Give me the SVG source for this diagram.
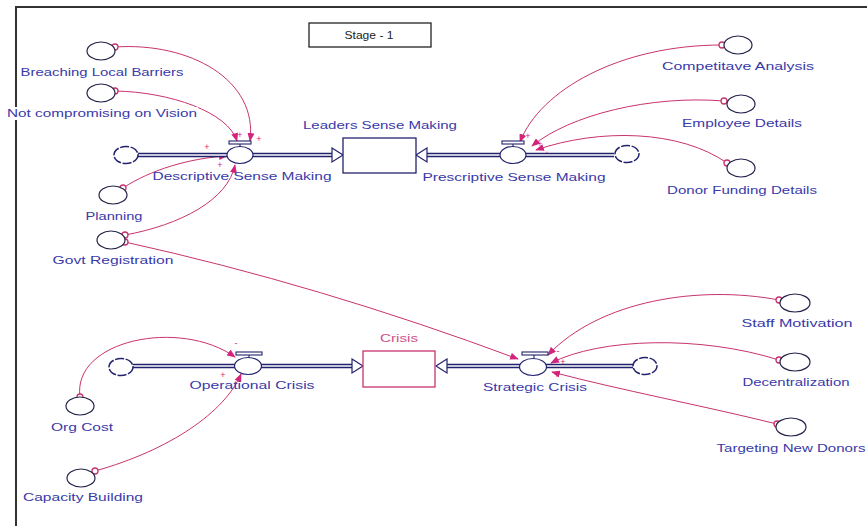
<svg xmlns="http://www.w3.org/2000/svg" width="867" height="526" viewBox="0 0 867 526">
<style>
text{font-family:"Liberation Sans",Arial,sans-serif;font-size:11.5px;fill:#3a3aa8;text-anchor:middle}
.aux{fill:#fff;stroke:#23234a;stroke-width:1.2}
.valve{fill:#fff;stroke:#22226e;stroke-width:1.2}
.bar{fill:#fff;stroke:#22226e;stroke-width:1.1}
.cloud{fill:#fff;stroke:#22226e;stroke-width:1.5;stroke-dasharray:9 1.6}
.pipeo{stroke:#22226e;stroke-width:4.5;fill:none}
.pipei{stroke:#fff;stroke-width:1.6;fill:none}
.head{fill:#fff;stroke:#22226e;stroke-width:1.2}
.link{fill:none;stroke:#c8336e;stroke-width:1}
.org{fill:#fff;stroke:#c8336e;stroke-width:1.3}
.sign{fill:#d4237a;font-size:9px}
</style>
<defs>
<marker id="ah" viewBox="0 0 10 8" refX="9" refY="4" markerWidth="9" markerHeight="7" markerUnits="userSpaceOnUse" orient="auto">
<path d="M0,0 L10,4 L0,8 Z" fill="#d4237a"/>
</marker>
</defs>
<rect width="867" height="526" fill="#fff"/>
<g id="frame">
<path d="M16,526 L16,7 L867,7" fill="none" stroke="#333" stroke-width="2"/>
</g>
<g id="stage">
<rect x="309" y="23" width="122" height="24" fill="#fff" stroke="#222" stroke-width="1.3"/>
<text x="369" y="39" style="fill:#222;font-size:10.5px" textLength="49" lengthAdjust="spacingAndGlyphs">Stage - 1</text>
</g>
<g id="connectors">
<path class="link" d="M115,47 C190,42 258,80 250,141" marker-end="url(#ah)"/>
<path class="link" d="M115,91 C170,92 228,112 237,141" marker-end="url(#ah)"/>
<path class="link" d="M123,188 C150,170 190,158 227,156" marker-end="url(#ah)"/>
<path class="link" d="M125,235 C180,225 228,200 235,165" marker-end="url(#ah)"/>
<path class="link" d="M125,242 Q320,285 518,359" marker-end="url(#ah)"/>
<path class="link" d="M722,45 C620,45 540,90 520,142" marker-end="url(#ah)"/>
<path class="link" d="M724,101 C650,95 570,115 532,146" marker-end="url(#ah)"/>
<path class="link" d="M727,163 C680,130 600,128 536,150" marker-end="url(#ah)"/>
<path class="link" d="M779,300 C700,285 600,300 548,355" marker-end="url(#ah)"/>
<path class="link" d="M779,360 C700,335 600,338 551,363" marker-end="url(#ah)"/>
<path class="link" d="M777,424 C700,405 620,390 552,372" marker-end="url(#ah)"/>
<path class="link" d="M80,397 C72,340 180,318 235,357" marker-end="url(#ah)"/>
<path class="link" d="M95,471 C170,450 225,412 241,374" marker-end="url(#ah)"/>
<circle class="org" cx="115" cy="47" r="3"/>
<circle class="org" cx="115" cy="91" r="3"/>
<circle class="org" cx="123" cy="188" r="3"/>
<circle class="org" cx="125" cy="235" r="3"/>
<circle class="org" cx="125" cy="242" r="3"/>
<circle class="org" cx="722" cy="45" r="3"/>
<circle class="org" cx="724" cy="101" r="3"/>
<circle class="org" cx="727" cy="163" r="3"/>
<circle class="org" cx="779" cy="300" r="3"/>
<circle class="org" cx="779" cy="360" r="3"/>
<circle class="org" cx="777" cy="424" r="3"/>
<circle class="org" cx="80" cy="397" r="3"/>
<circle class="org" cx="95" cy="471" r="3"/>
<text class="sign" x="240" y="138">+</text>
<text class="sign" x="259" y="142">+</text>
<text class="sign" x="207" y="150">+</text>
<text class="sign" x="220" y="168">+</text>
<text class="sign" x="528" y="139">+</text>
<text class="sign" x="540" y="147">+</text>
<text class="sign" x="547" y="157">+</text>
<text class="sign" x="558" y="354">-</text>
<text class="sign" x="563" y="365">+</text>
<text class="sign" x="557" y="378">+</text>
<text class="sign" x="236" y="346">-</text>
<text class="sign" x="223" y="378">+</text>
</g>
<g id="flows">
<path class="pipeo" d="M138,155 H333"/><path class="pipei" d="M138,155 H333"/>
<path class="head" d="M332,148 L343,155 L332,162 Z"/>
<path class="pipeo" d="M614,155 H426"/><path class="pipei" d="M614,155 H426"/>
<path class="head" d="M427,148 L416,155 L427,162 Z"/>
<path class="pipeo" d="M133,366 H353"/><path class="pipei" d="M133,366 H353"/>
<path class="head" d="M352,359 L363,366 L352,373 Z"/>
<path class="pipeo" d="M633,366 H446"/><path class="pipei" d="M633,366 H446"/>
<path class="head" d="M447,359 L436,366 L447,373 Z"/>
</g>
<g id="leaders-sense-making">
<rect x="343" y="138" width="73" height="35" fill="#fff" stroke="#22226e" stroke-width="1.3"/>
<text x="380" y="129" textLength="154" lengthAdjust="spacingAndGlyphs">Leaders Sense Making</text>
</g>
<g id="crisis">
<rect x="363" y="351" width="72" height="36" fill="#fff" stroke="#c8336e" stroke-width="1.3"/>
<text x="399" y="342" style="fill:#d0508a" textLength="38" lengthAdjust="spacingAndGlyphs">Crisis</text>
</g>
<g id="cloud-desc"><ellipse class="cloud" cx="126" cy="155" rx="12" ry="8.5"/></g>
<g id="cloud-presc"><ellipse class="cloud" cx="627" cy="154" rx="12" ry="8.5"/></g>
<g id="cloud-oper"><ellipse class="cloud" cx="121" cy="367" rx="12" ry="8.5"/></g>
<g id="cloud-strat"><ellipse class="cloud" cx="645" cy="366" rx="12" ry="8.5"/></g>
<g id="descriptive-sense-making">
<path class="bar" d="M240,144 V147"/>
<rect class="bar" x="229" y="141" width="22" height="3"/>
<ellipse class="valve" cx="240" cy="155" rx="13" ry="8.5"/>
<text x="242" y="180" textLength="179" lengthAdjust="spacingAndGlyphs">Descriptive Sense Making</text>
</g>
<g id="prescriptive-sense-making">
<path class="bar" d="M513,144 V147"/>
<rect class="bar" x="502" y="141" width="22" height="3"/>
<ellipse class="valve" cx="513" cy="155" rx="13" ry="8.5"/>
<text x="514" y="181" textLength="183" lengthAdjust="spacingAndGlyphs">Prescriptive Sense Making</text>
</g>
<g id="operational-crisis">
<path class="bar" d="M249,355 V358"/>
<rect class="bar" x="236" y="352" width="26" height="3"/>
<ellipse class="valve" cx="248" cy="366" rx="13.5" ry="8.5"/>
<text x="252" y="389" textLength="125" lengthAdjust="spacingAndGlyphs">Operational Crisis</text>
</g>
<g id="strategic-crisis">
<path class="bar" d="M534,355 V358"/>
<rect class="bar" x="522" y="352" width="26" height="3"/>
<ellipse class="valve" cx="533" cy="367" rx="13.5" ry="8.5"/>
<text x="535" y="391" textLength="104" lengthAdjust="spacingAndGlyphs">Strategic Crisis</text>
</g>
<g id="breaching-local-barriers">
<ellipse class="aux" cx="101" cy="51" rx="14" ry="9"/>
<text x="102" y="76" textLength="163" lengthAdjust="spacingAndGlyphs">Breaching Local Barriers</text>
</g>
<g id="not-compromising-on-vision">
<ellipse class="aux" cx="101" cy="93" rx="14" ry="9"/>
<rect x="6" y="107" width="192" height="13" fill="#fff"/>
<text x="102" y="117" textLength="190" lengthAdjust="spacingAndGlyphs">Not compromising on Vision</text>
</g>
<g id="planning">
<ellipse class="aux" cx="113" cy="195" rx="14" ry="9"/>
<text x="114" y="220" textLength="57" lengthAdjust="spacingAndGlyphs">Planning</text>
</g>
<g id="govt-registration">
<ellipse class="aux" cx="111" cy="240" rx="14" ry="9"/>
<text x="113" y="264" textLength="121" lengthAdjust="spacingAndGlyphs">Govt Registration</text>
</g>
<g id="competitave-analysis">
<ellipse class="aux" cx="738" cy="45" rx="14" ry="9"/>
<text x="738" y="70" textLength="152" lengthAdjust="spacingAndGlyphs">Competitave Analysis</text>
</g>
<g id="employee-details">
<ellipse class="aux" cx="741" cy="104" rx="14" ry="9"/>
<text x="742" y="127" textLength="120" lengthAdjust="spacingAndGlyphs">Employee Details</text>
</g>
<g id="donor-funding-details">
<ellipse class="aux" cx="741" cy="168" rx="14" ry="9"/>
<text x="742" y="194" textLength="150" lengthAdjust="spacingAndGlyphs">Donor Funding Details</text>
</g>
<g id="staff-motivation">
<ellipse class="aux" cx="795" cy="303" rx="15" ry="9"/>
<text x="797" y="327" textLength="111" lengthAdjust="spacingAndGlyphs">Staff Motivation</text>
</g>
<g id="decentralization">
<ellipse class="aux" cx="795" cy="362" rx="15" ry="9"/>
<text x="796" y="386" textLength="107" lengthAdjust="spacingAndGlyphs">Decentralization</text>
</g>
<g id="targeting-new-donors">
<ellipse class="aux" cx="791" cy="427" rx="15" ry="9"/>
<text x="791" y="452" textLength="149" lengthAdjust="spacingAndGlyphs">Targeting New Donors</text>
</g>
<g id="org-cost">
<ellipse class="aux" cx="80" cy="406" rx="14" ry="9"/>
<text x="82" y="431" textLength="62" lengthAdjust="spacingAndGlyphs">Org Cost</text>
</g>
<g id="capacity-building">
<ellipse class="aux" cx="81" cy="478" rx="14" ry="9"/>
<text x="83" y="501" textLength="120" lengthAdjust="spacingAndGlyphs">Capacity Building</text>
</g>
</svg>
